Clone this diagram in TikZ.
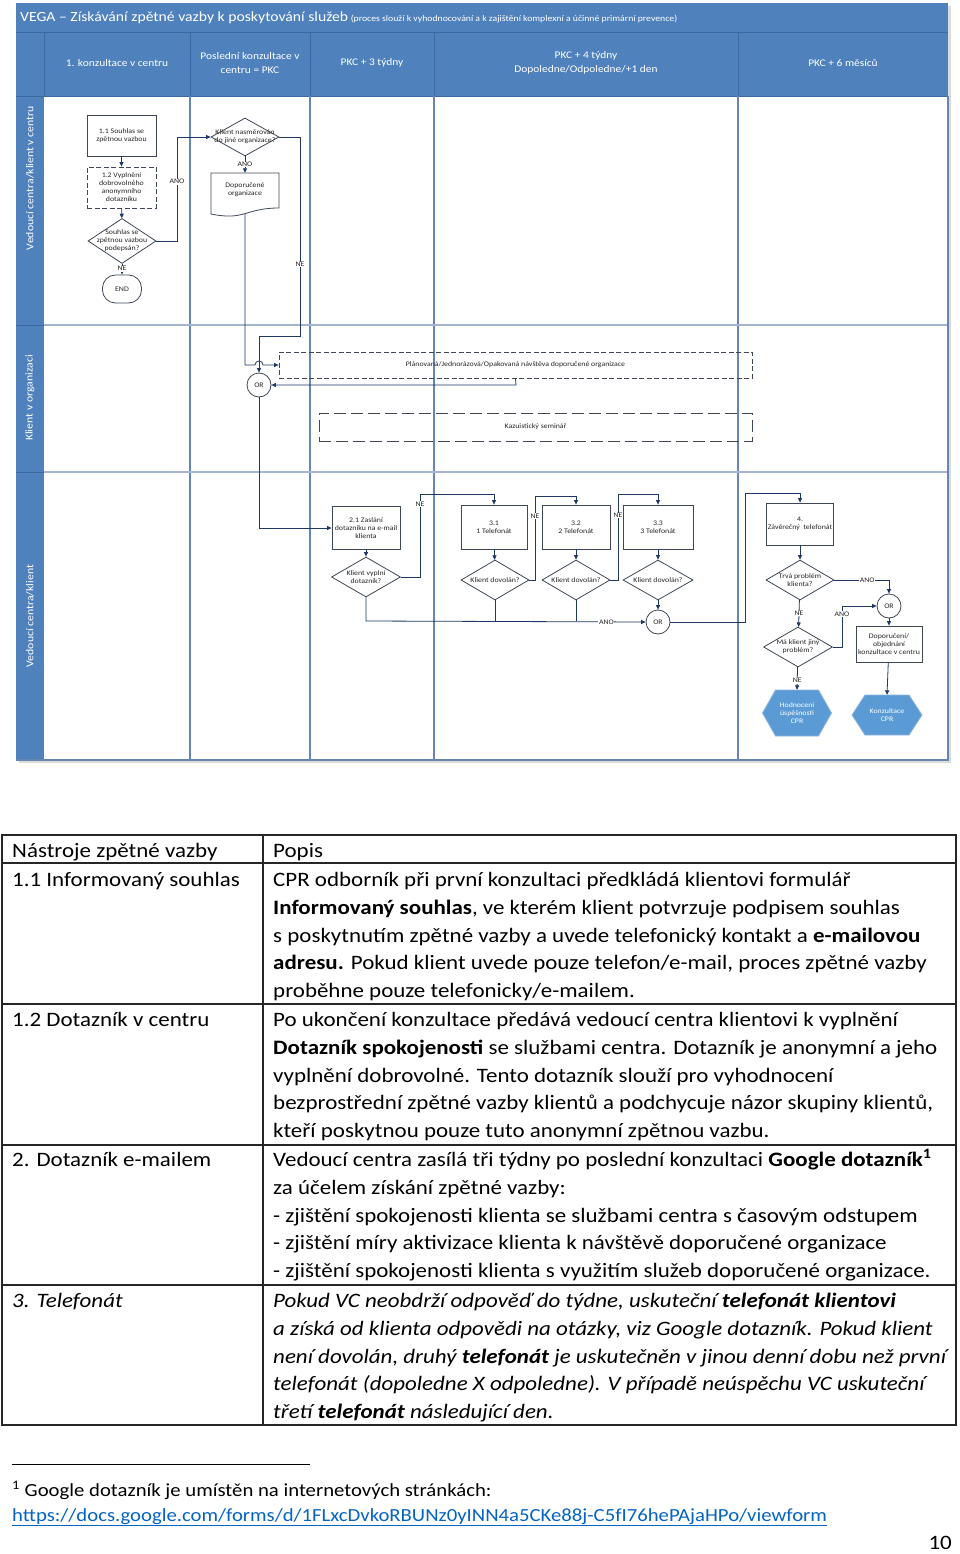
\documentclass[tikz,border=0pt]{standalone}
\usepackage{fontspec}
\setmainfont{Carlito}[FakeStretch=1.12]
\usetikzlibrary{arrows.meta,shapes.geometric,calc}
\definecolor{hdr}{HTML}{4F81BD}
\definecolor{hdrline}{HTML}{3B6AA3}
\definecolor{vline}{HTML}{6585B3}
\definecolor{hline}{HTML}{A3B6D1}
\definecolor{conn}{HTML}{1F3864}
\definecolor{boxc}{HTML}{3F4756}
\definecolor{hexf}{HTML}{5B9BD5}
\definecolor{hexl}{HTML}{8DB4E2}
\definecolor{linkc}{HTML}{0563C1}
\definecolor{txt}{HTML}{262626}
\newcommand\hexshape[4]{\filldraw[fill=hexf, draw=hexl, line width=0.8pt] ({#1-#3/2},#2) -- ({#1-#3/2+13},{#2-#4/2}) -- ({#1+#3/2-13},{#2-#4/2}) -- ({#1+#3/2},#2) -- ({#1+#3/2-13},{#2+#4/2}) -- ({#1-#3/2+13},{#2+#4/2}) -- cycle;}
\begin{document}
\begin{tikzpicture}[x=1pt,y=-1pt,
  dfont/.style={font=\fontsize{7}{8}\selectfont},
  proc/.style={draw=boxc, line width=0.8pt, fill=white, dfont, align=center, inner sep=1pt, text=txt},
  dec/.style={diamond, draw=boxc, line width=0.8pt, fill=white, inner sep=0pt},
  dlab/.style={dfont, align=center, text=txt, inner sep=0pt},
  orc/.style={circle, draw=boxc, line width=0.8pt, fill=white, minimum size=24pt, inner sep=0pt, dfont, text=txt},
  wire/.style={draw=conn, line width=0.8pt},
  arr/.style={wire, -{Triangle[length=4.5pt,width=4pt]}},
  lbl/.style={dfont, fill=white, inner sep=0.6pt, text=txt},
  colh/.style={font=\fontsize{10.2}{13.5}\selectfont, text=white, align=center, inner sep=0pt},
  lanel/.style={rotate=90, font=\fontsize{10.5}{12}\selectfont, text=white, inner sep=0pt},
  hexn/.style={dfont, text=white, align=center, inner sep=0pt},
  dashA/.style={draw=boxc, line width=0.8pt, dash pattern=on 5pt off 2.5pt},
  dashB/.style={draw=boxc, line width=0.8pt, dash pattern=on 12pt off 5pt},
  tfont/.style={font=\fontsize{20.5}{27.9}\selectfont, align=left, inner sep=0pt, anchor=north west},
  tline/.style={draw=black!85, line width=1.2pt}
]
\useasboundingbox (0,0) rectangle (960,1554);

% ---------- swimlane frame ----------
\fill[black!14] (19,6) rectangle (951,763);
\fill[white] (16,96) rectangle (948,760);
\fill[hdr] (16,3) rectangle (948,96);
\fill[hdr] (16,96) rectangle (44,760);
\draw[hdrline, line width=0.8pt] (16,32) -- (948,32);
\foreach \x in {44,190,310,434,738} \draw[hdrline, line width=0.8pt] (\x,32) -- (\x,96);
\draw[hdrline, line width=0.8pt] (16,96) -- (948,96);
\draw[hdrline, line width=1pt] (16,325) -- (44,325);
\draw[hdrline, line width=1pt] (16,472) -- (44,472);
\foreach \x in {190,310,434,738} \draw[vline, line width=1.2pt] (\x,96) -- (\x,760);
\draw[hline, line width=1.2pt] (44,325) -- (948,325);
\draw[hline, line width=1.2pt] (44,472) -- (948,472);
\draw[vline, line width=1.2pt] (948,96) -- (948,760) -- (16,760);

\node[anchor=base west, text=white, inner sep=0pt] (title) at (20,22) {{\fontsize{14}{16}\selectfont VEGA – Získávání zpětné vazby k poskytování služeb} {\fontsize{8.7}{10}\selectfont (proces slouží k vyhodnocování a k zajištění komplexní a účinné primární prevence)}};

\node[colh] (h1) at (117,63) {1. konzultace v centru};
\node[colh] (h2) at (250,63) {Poslední konzultace v\\centru = PKC};
\node[colh] (h3) at (372,63) {PKC + 3 týdny};
\node[colh] (h4) at (586,63) {PKC + 4 týdny\\Dopoledne/Odpoledne/+1 den};
\node[colh] (h5) at (843,63) {PKC + 6 měsíců};

\node[lanel] (ln1) at (30,178) {Vedoucí centra/klient v centru};
\node[lanel] (ln2) at (30,398) {Klient v organizaci};
\node[lanel] (ln3) at (30,616) {Vedoucí centra/klient};

% ---------- lane 1 ----------
\node[proc, minimum width=69pt, minimum height=41pt] (b11) at (121.5,135.5) {1.1 Souhlas se\\zpětnou vazbou};
\node[proc, dashA, minimum width=69pt, minimum height=41pt] (b12) at (121.5,187.5) {1.2 Vyplnění\\dobrovolného\\anonymního\\dotazníku};
\node[dec, minimum width=68pt, minimum height=45pt, label={[dlab]center:Souhlas se\\zpětnou vazbou\\podepsán?}] (d1) at (122,241) {};
\node[proc, rounded corners=13pt, minimum width=39pt, minimum height=28pt] (end) at (122,289) {END};
\node[dec, minimum width=68pt, minimum height=38pt, label={[dlab]center:Klient nasměrován\\do jiné organizace?}] (d2) at (245,137) {};
\filldraw[fill=white, draw=boxc, line width=0.8pt] (211,173) -- (279,173) -- (279,208) .. controls (245,208) and (245,221) .. (211,214) -- cycle;
\node[dlab, minimum width=68pt, minimum height=34pt] (doc) at (245,190) {Doporučené\\organizace};

% ---------- lane 2 ----------
\node[dashA, dfont, text=txt, minimum width=473pt, minimum height=26pt, inner sep=0pt] (plan) at (515.5,365) {Plánovaná/Jednorázová/Opakovaná návštěva doporučené organizace};
\node[dashB, dfont, text=txt, minimum width=433pt, minimum height=28pt, inner sep=0pt] (kaz) at (535.5,427) {Kazuistický seminář};
\node[orc] (or1) at (259,385) {OR};

% ---------- lane 3 ----------
\node[proc, minimum width=68pt, minimum height=43pt] (b21) at (366,528) {2.1 Zaslání\\dotazníku na e-mail\\klienta};
\node[dec, minimum width=69pt, minimum height=40pt, label={[dlab]center:Klient vyplní\\dotazník?}] (d21) at (366,577) {};
\node[proc, minimum width=66pt, minimum height=44pt] (b31) at (494,527) {3.1\\1 Telefonát};
\node[dec, minimum width=68pt, minimum height=40pt, label={[dlab]center:Klient dovolán?}] (d31) at (495,580) {};
\node[proc, minimum width=68pt, minimum height=44pt] (b32) at (576,527) {3.2\\2 Telefonát};
\node[dec, minimum width=68pt, minimum height=40pt, label={[dlab]center:Klient dovolán?}] (d32) at (576,580) {};
\node[proc, minimum width=70pt, minimum height=44pt] (b33) at (658,527) {3.3\\3 Telefonát};
\node[dec, minimum width=70pt, minimum height=40pt, label={[dlab]center:Klient dovolán?}] (d33) at (658,580) {};
\node[orc] (or2) at (658,622) {OR};
\node[proc, minimum width=67pt, minimum height=42pt] (b4) at (800,524) {4.\\Závěrečný\ \ telefonát};
\node[dec, minimum width=68pt, minimum height=40pt, label={[dlab]center:Trvá problém\\klienta?}] (d4) at (800,580) {};
\node[dec, minimum width=69pt, minimum height=40pt, label={[dlab]center:Má klient jiný\\problém?}] (d5) at (798,647) {};
\node[orc] (or3) at (889,606) {OR};
\node[proc, minimum width=66pt, minimum height=36pt] (bdop) at (889,644) {Doporučení/\\objednání\\konzultace v centru};
\hexshape{797}{713}{69}{46}
\node[hexn, minimum width=69pt, minimum height=46pt] (hx1) at (797,713) {Hodnocení\\úspěšnosti\\CPR};
\hexshape{887}{715}{70}{40}
\node[hexn, minimum width=70pt, minimum height=40pt] (hx2) at (887,715) {Konzultace\\CPR};

% ---------- connectors ----------
\draw[arr] (b11) -- (b12);
\draw[arr] (b12) -- (d1);
\draw[arr] (d1) -- node[lbl, pos=0.45] {NE} (end);
\draw[arr] (d1.east) -- (177,241) -- node[lbl, pos=0.57] {ANO} (177,137) -- (d2.west);
\draw[arr] (d2) -- node[lbl] {ANO} (doc.north);
\draw[arr] (d2.east) -- (300,137) -- node[lbl, pos=0.64] {NE} (300,336) -- (259,336) -- (or1.north);
\draw[arr] ($(doc.south)+(0,6.6)$) -- (245,365) -- (255,365) arc[start angle=180, end angle=0, radius=4pt] -- (plan.west);
\draw[arr] (plan.south) -- (516,385) -- (or1.east);
\draw[arr] (or1.south) -- (259,528) -- (b21.west);

\draw[arr] (b21) -- (d21);
\draw[arr] (d21.east) -- (420,577) -- node[lbl, pos=0.88] {NE} (420,494) -- (494,494) -- (b31.north);
\draw[arr] (d21.south) -- (366,621) -- node[lbl, pos=0.86] {ANO} (or2.west);
\draw[arr] (b31) -- (d31);
\draw[arr] (b32) -- (d32);
\draw[arr] (b33) -- (d33);
\draw[wire] (d31.south) -- (495,621);
\draw[wire] (d32.south) -- (576,621);
\draw[arr] (d33) -- (or2);
\draw[arr] (d31.east) -- (535,580) -- node[lbl, pos=0.76] {NE} (535,496) -- (576,496) -- (b32.north);
\draw[arr] (d32.east) -- (618,580) -- node[lbl, pos=0.75] {NE} (618,494) -- (658,494) -- (b33.north);
\draw[arr] (or2.east) -- (745,622) -- (745,493) -- (800,493) -- (b4.north);
\draw[arr] (b4) -- (d4);
\draw[arr] (d4.east) -- node[lbl, pos=0.6] {ANO} (889,580) -- (or3.north);
\draw[arr] (d4) -- node[lbl, pos=0.5] {NE} (d5);
\draw[arr] (d5.east) -- (842,647) -- node[lbl, pos=0.8] {ANO} (842,606) -- (or3.west);
\draw[arr] (or3) -- (bdop);
\draw[arr] (bdop) -- (hx2.north);
\draw[arr] (d5) -- node[lbl, pos=0.6] {NE} (hx1.north);

% ---------- table ----------
\draw[tline] (2,835) rectangle (956,1425);
\draw[tline] (2,863) -- (956,863);
\draw[tline] (2,1004) -- (956,1004);
\draw[tline] (2,1145) -- (956,1145);
\draw[tline] (2,1285) -- (956,1285);
\draw[tline] (263,835) -- (263,1425);

\node[tfont] (t0a) at (12,837.5) {\strut Nástroje zpětné vazby};
\node[tfont] (t0b) at (273,837.5) {\strut Popis};
\node[tfont] (t1a) at (12,866.5) {\strut 1.1 Informovaný souhlas};
\node[tfont] (t1b) at (273,866.5) {\strut CPR odborník při první konzultaci předkládá klientovi formulář\\\textbf{Informovaný souhlas}, ve kterém klient potvrzuje podpisem souhlas\\s poskytnutím zpětné vazby a uvede telefonický kontakt a \textbf{e-mailovou}\\\textbf{adresu.} Pokud klient uvede pouze telefon/e-mail, proces zpětné vazby\\proběhne pouze telefonicky/e-mailem.};
\node[tfont] (t2a) at (12,1006.5) {\strut 1.2 Dotazník v centru};
\node[tfont] (t2b) at (273,1006.5) {\strut Po ukončení konzultace předává vedoucí centra klientovi k vyplnění\\\textbf{Dotazník spokojenosti} se službami centra. Dotazník je anonymní a jeho\\vyplnění dobrovolné. Tento dotazník slouží pro vyhodnocení\\bezprostřední zpětné vazby klientů a podchycuje názor skupiny klientů,\\kteří poskytnou pouze tuto anonymní zpětnou vazbu.};
\node[tfont] (t3a) at (12,1146.5) {\strut 2. Dotazník e-mailem};
\node[tfont] (t3b) at (273,1146.5) {\strut Vedoucí centra zasílá tři týdny po poslední konzultaci \textbf{Google dotazník}\textsuperscript{\textbf{1}}\\za účelem získání zpětné vazby:\\- zjištění spokojenosti klienta se službami centra s časovým odstupem\\- zjištění míry aktivizace klienta k návštěvě doporučené organizace\\- zjištění spokojenosti klienta s využitím služeb doporučené organizace.};
\node[tfont] (t4a) at (12,1287.5) {\strut\textit{3. Telefonát}};
\node[tfont] (t4b) at (273,1287.5) {\strut\itshape Pokud VC neobdrží odpověď do týdne, uskuteční \textbf{telefonát klientovi}\\\itshape a získá od klienta odpovědi na otázky, viz Google dotazník. Pokud klient\\\itshape není dovolán, druhý \textbf{telefonát} je uskutečněn v jinou denní dobu než první\\\itshape telefonát (dopoledne X odpoledne). V případě neúspěchu VC uskuteční\\\itshape třetí \textbf{telefonát} následující den.};

% ---------- footnote ----------
\draw[black, line width=0.8pt] (12,1464) -- (310,1464);
\node[anchor=base west, inner sep=0pt, font=\fontsize{18.5}{22}\selectfont] (fn) at (12,1496) {\textsuperscript{1} Google dotazník je umístěn na internetových stránkách:};
\node[anchor=base west, inner sep=0pt, font=\fontsize{18.5}{22}\selectfont, text=linkc] (url) at (12,1521) {\underline{https://docs.google.com/forms/d/1FLxcDvkoRBUNz0yINN4a5CKe88j-C5fI76hePAjaHPo/viewform}};
\node[anchor=base east, inner sep=0pt, font=\fontsize{20.5}{24}\selectfont] (pg) at (952,1549) {10};
\end{tikzpicture}
\end{document}
